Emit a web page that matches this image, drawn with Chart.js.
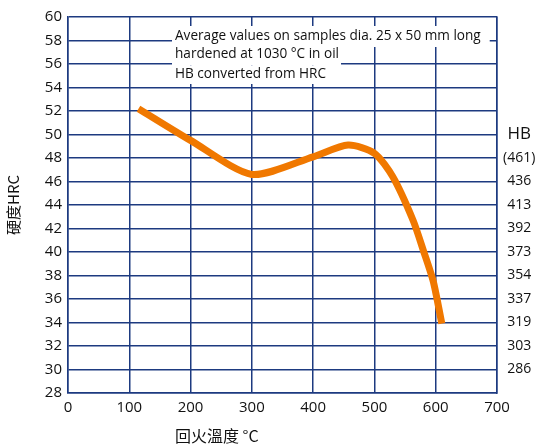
<!DOCTYPE html>
<html>
<head>
<meta charset="utf-8">
<script src="https://cdn.jsdelivr.net/npm/chart.js@4"></script>
<style>
  html, body { margin: 0; padding: 0; background: #fff; }
  #wrap { width: 538px; height: 448px; }
</style>
</head>
<body>
<div id="wrap"><canvas id="c" width="538" height="448"></canvas></div>
<script>
// tempering temperature (°C) vs hardness (HRC)
const temps = [115, 200, 300, 400, 457, 500, 530, 563, 580, 596, 610];
const hrc = [52.2, 49.5, 46.6, 48.1, 49.1, 48.4, 46.4, 42.7, 40.1, 37.5, 33.9];

// right axis: HB read-off at given HRC levels
const hbAtHrc = [50, 48, 46, 44, 42, 40, 38, 36, 34, 32, 30];
const hbLabels = ["HB", "(461)", "436", "413", "392", "373", "354", "337", "319", "303", "286"];

const noteLines = [
    "Average values on samples dia. 25 x 50 mm long",
    "hardened at 1030 °C in oil",
    "HB converted from HRC"
];

const gridColor = "#1d3a80";
const fontFam = "'Open Sans', 'Noto Sans', sans-serif";
const cjkFam = "'Noto Sans CJK TC', " + fontFam;

/* note box: each line gets its own white backing */
const notePlugin = {
    id: "note",
    beforeDatasetsDraw(chart) {
        const ctx = chart.ctx;
        ctx.save();
        ctx.font = "13.6px " + fontFam;
        ctx.textBaseline = "middle";
        const x0 = 175;
        const ys = [36, 54, 74];
        const box = [[26, 47], [47, 65.5], [65.5, 84]];
        const padR = [9, 2, 2];
        noteLines.forEach((t, i) => {
            const w = ctx.measureText(t).width;
            ctx.fillStyle = "#fff";
            ctx.fillRect(x0 - 3, box[i][0], w + 3 + padR[i], box[i][1] - box[i][0]);
            ctx.fillStyle = "#111";
            ctx.fillText(t, x0, ys[i]);
        });
        // x axis title sits left of centre in the original
        ctx.font = "16px " + cjkFam;
        ctx.fillText("回火溫度 °C", 175, 436);
        ctx.restore();
    }
};

new Chart(document.getElementById("c"), {
    type: "scatter",
    data: {
        datasets: [{
            data: temps.map((t, i) => ({ x: t, y: hrc[i] })),
            showLine: true,
            borderColor: "#f07800",
            borderWidth: 7,
            borderCapStyle: "butt",
            pointRadius: 0,
            tension: 0.25
        }]
    },
    plugins: [notePlugin],
    options: {
        responsive: false,
        animation: false,
        layout: { padding: { top: 17, left: 0, right: 0, bottom: 0 } },
        plugins: { legend: { display: false }, tooltip: { enabled: false } },
        scales: {
            x: {
                type: "linear",
                min: 0, max: 700,
                ticks: { stepSize: 100, color: "#111", font: { size: 15, family: fontFam }, padding: 6 },
                grid: { color: gridColor, lineWidth: 1.5, drawTicks: false },
                border: { color: gridColor, width: 1.5 },
                afterFit: s => { s.height = 55; }
            },
            y: {
                min: 28, max: 60,
                ticks: { stepSize: 2, color: "#111", font: { size: 15, family: fontFam }, padding: 6 },
                grid: { color: gridColor, lineWidth: 1.5, drawTicks: false },
                border: { color: gridColor, width: 1.5 },
                title: { display: true, text: "硬度HRC", color: "#111", font: { size: 15, family: cjkFam }, padding: { bottom: 0 } },
                afterFit: s => { s.width = 68; }
            },
            y2: {
                position: "right",
                min: 28, max: 60,
                ticks: {
                    stepSize: 2,
                    color: "#111",
                    crossAlign: "center",
                    padding: 6,
                    font: ctx => ({ size: ctx.tick && ctx.tick.value === 50 ? 17 : 14, family: fontFam }),
                    callback: v => {
                        const i = hbAtHrc.indexOf(v);
                        return i >= 0 ? hbLabels[i] : "";
                    }
                },
                grid: { display: false, drawTicks: false },
                border: { color: gridColor, width: 1.5 },
                afterFit: s => { s.width = 41; }
            }
        }
    }
});
</script>
</body>
</html>
